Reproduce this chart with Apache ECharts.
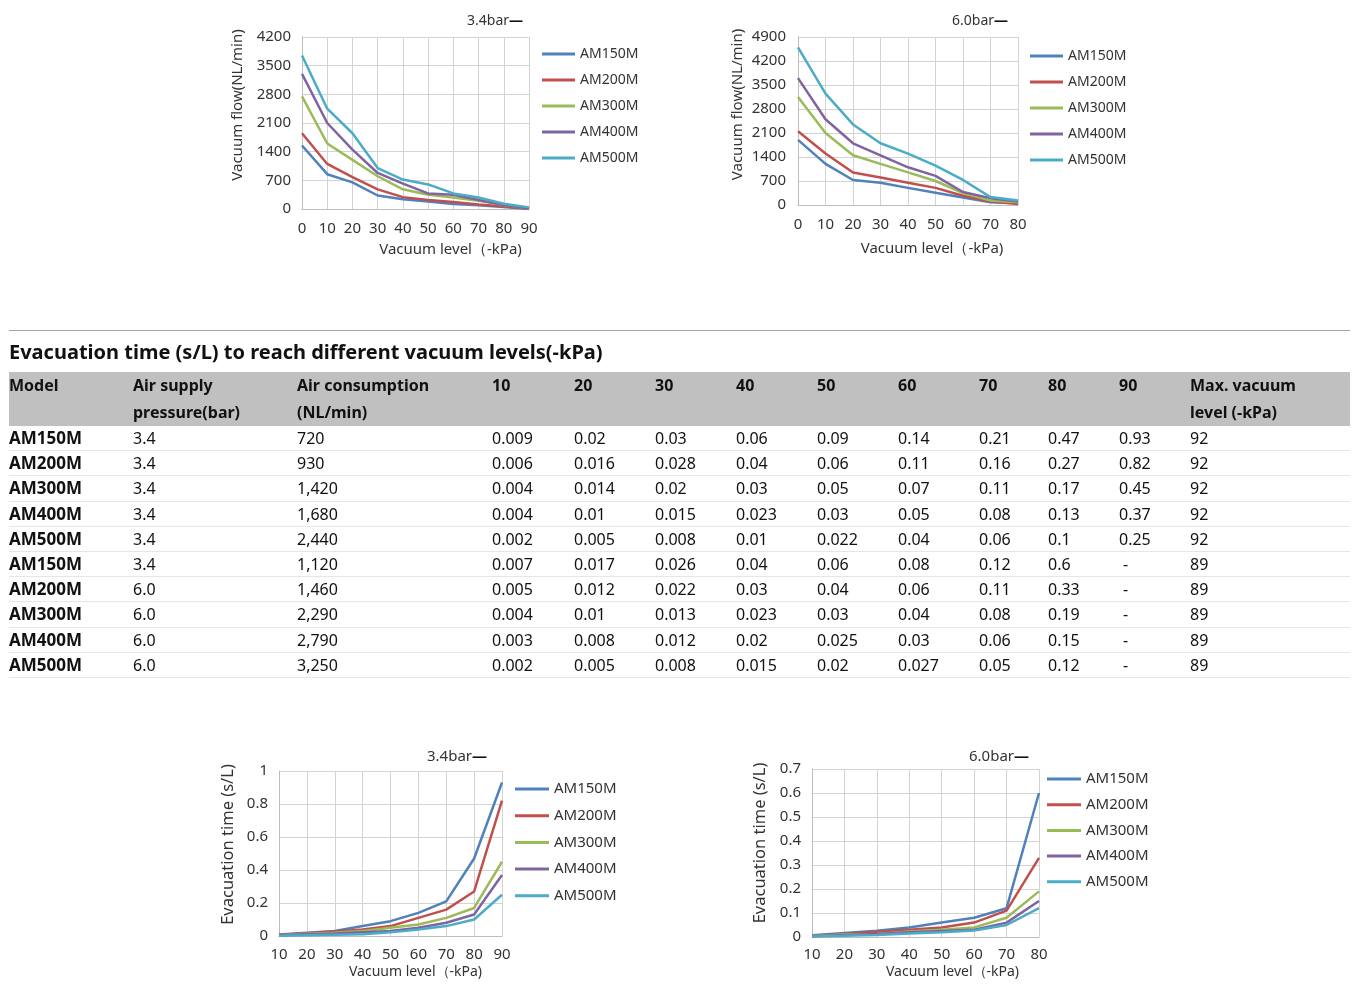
<!DOCTYPE html>
<html>
<head>
<meta charset="utf-8">
<script src="https://cdn.jsdelivr.net/npm/echarts@6/dist/echarts.min.js"></script>
<style>
html,body{margin:0;padding:0;background:#fff;width:1355px;height:988px;overflow:hidden;}
#chart{position:absolute;left:0;top:0;width:1355px;height:988px;z-index:0;}
#sep{position:absolute;left:9px;top:330px;width:1341px;height:1px;background:#a6a6a6;z-index:1;}
#ttl{position:absolute;left:9px;top:340px;line-height:24px;font-family:'Noto Sans',sans-serif;font-weight:bold;font-size:20px;color:#111;z-index:1;white-space:nowrap;}
#tbl{position:absolute;left:9px;top:372px;z-index:1;border-collapse:collapse;table-layout:fixed;font-family:'Noto Sans',sans-serif;color:#111;}
#tbl td{padding:0;text-align:left;white-space:nowrap;}
#tbl thead td{background:#c0c0c0;font-weight:bold;font-size:16px;line-height:27px;vertical-align:top;height:52px;}
#tbl tbody td{font-size:16px;height:24.2px;line-height:22px;vertical-align:middle;border-bottom:1px solid #e6e6e6;}
#tbl tbody td.m{font-weight:bold;font-size:17px;}
</style>
</head>
<body>
<div id="chart"></div>
<div id="sep"></div>
<div id="ttl">Evacuation time (s/L) to reach different vacuum levels(-kPa)</div>
<table id="tbl"></table>
<script>
// ---------- data ----------
const models = ['AM150M', 'AM200M', 'AM300M', 'AM400M', 'AM500M'];

// vacuum flow, 3.4 bar
const flowLevels34 = ['0', '10', '20', '30', '40', '50', '60', '70', '80', '90'];
const flow34_AM150M = [1550, 850, 650, 330, 240, 180, 120, 90, 50, 0];
const flow34_AM200M = [1850, 1100, 780, 480, 290, 220, 170, 110, 60, 10];
const flow34_AM300M = [2750, 1600, 1200, 800, 480, 350, 280, 200, 100, 20];
const flow34_AM400M = [3300, 2100, 1450, 880, 620, 380, 350, 220, 100, 20];
const flow34_AM500M = [3750, 2450, 1850, 1000, 720, 600, 380, 280, 130, 40];

// vacuum flow, 6.0 bar
const flowLevels60 = ['0', '10', '20', '30', '40', '50', '60', '70', '80'];
const flow60_AM150M = [1900, 1200, 730, 650, 500, 360, 220, 80, 60];
const flow60_AM200M = [2150, 1500, 950, 800, 650, 500, 270, 100, 30];
const flow60_AM300M = [3150, 2100, 1450, 1200, 950, 700, 350, 130, 80];
const flow60_AM400M = [3700, 2500, 1800, 1450, 1100, 850, 380, 200, 100];
const flow60_AM500M = [4600, 3250, 2350, 1800, 1500, 1150, 730, 230, 130];

// evacuation time table
const tableModels = ['AM150M', 'AM200M', 'AM300M', 'AM400M', 'AM500M', 'AM150M', 'AM200M', 'AM300M', 'AM400M', 'AM500M'];
const tablePressure = ['3.4', '3.4', '3.4', '3.4', '3.4', '3.4', '6.0', '6.0', '6.0', '6.0'];
const tableConsumption = [720, 930, 1420, 1680, 2440, 1120, 1460, 2290, 2790, 3250];
const tableMaxVacuum = [92, 92, 92, 92, 92, 89, 89, 89, 89, 89];
const evacLevels34 = ['10', '20', '30', '40', '50', '60', '70', '80', '90'];
const evacLevels60 = ['10', '20', '30', '40', '50', '60', '70', '80'];
const evac34_AM150M = [0.009, 0.02, 0.03, 0.06, 0.09, 0.14, 0.21, 0.47, 0.93];
const evac34_AM200M = [0.006, 0.016, 0.028, 0.04, 0.06, 0.11, 0.16, 0.27, 0.82];
const evac34_AM300M = [0.004, 0.014, 0.02, 0.03, 0.05, 0.07, 0.11, 0.17, 0.45];
const evac34_AM400M = [0.004, 0.01, 0.015, 0.023, 0.03, 0.05, 0.08, 0.13, 0.37];
const evac34_AM500M = [0.002, 0.005, 0.008, 0.01, 0.022, 0.04, 0.06, 0.1, 0.25];
const evac60_AM150M = [0.007, 0.017, 0.026, 0.04, 0.06, 0.08, 0.12, 0.6];
const evac60_AM200M = [0.005, 0.012, 0.022, 0.03, 0.04, 0.06, 0.11, 0.33];
const evac60_AM300M = [0.004, 0.01, 0.013, 0.023, 0.03, 0.04, 0.08, 0.19];
const evac60_AM400M = [0.003, 0.008, 0.012, 0.02, 0.025, 0.03, 0.06, 0.15];
const evac60_AM500M = [0.002, 0.005, 0.008, 0.015, 0.02, 0.027, 0.05, 0.12];
const tableHeaderLine1 = ['Model', 'Air supply', 'Air consumption', '10', '20', '30', '40', '50', '60', '70', '80', '90', 'Max. vacuum'];
const tableHeaderLine2 = ['', 'pressure(bar)', '(NL/min)', '', '', '', '', '', '', '', '', '', 'level (-kPa)'];

// ---------- table ----------
const colWidths = [124, 164, 195, 82, 81, 81, 81, 81, 81, 69, 71, 71, 160];
const evacRows = [evac34_AM150M, evac34_AM200M, evac34_AM300M, evac34_AM400M, evac34_AM500M,
                  evac60_AM150M, evac60_AM200M, evac60_AM300M, evac60_AM400M, evac60_AM500M];
(function buildTable() {
  const t = document.getElementById('tbl');
  let html = '<colgroup>' + colWidths.map(w => '<col style="width:' + w + 'px">').join('') + '</colgroup>';
  html += '<thead><tr>' + tableHeaderLine1.map((h, i) => '<td>' + h + (tableHeaderLine2[i] ? '<br>' + tableHeaderLine2[i] : '') + '</td>').join('') + '</tr></thead><tbody>';
  for (let r = 0; r < tableModels.length; r++) {
    const times = [];
    for (let k = 0; k < 9; k++) times.push(evacRows[r][k] === undefined ? '-' : String(evacRows[r][k]));
    html += '<tr><td class="m">' + tableModels[r] + '</td><td>' + tablePressure[r] + '</td><td>' +
      tableConsumption[r].toLocaleString('en-US') + '</td>' +
      times.map(v => '<td' + (v === '-' ? ' style="padding-left:4px"' : '') + '>' + v + '</td>').join('') +
      '<td>' + tableMaxVacuum[r] + '</td></tr>';
  }
  html += '</tbody>';
  t.innerHTML = html;
  t.style.width = colWidths.reduce((a, b) => a + b, 0) + 'px';
})();

// ---------- charts ----------
const colors = ['#4F81BD', '#C0504D', '#9BBB59', '#8064A2', '#4BACC6'];
const FONT = 'Noto Sans';
const TXT = '#333333';

const panels = [
  { grid: { left: 302, top: 37, width: 227, height: 172 }, cats: flowLevels34,
    data: [flow34_AM150M, flow34_AM200M, flow34_AM300M, flow34_AM400M, flow34_AM500M],
    yMax: 4200, yInt: 700, yName: 'Vacuum flow(NL/min)', fs: 14, nfs: 15, xfs: 15,
    yGap: 57, yPad: 36, xGap: 33, xPad: 70, xMargin: 12, yMargin: 11,
    title: '3.4bar', tLeft: 467, tTop: 14,
    legend: { left: 542, top: 46, gap: 10, w: 33 } },
  { grid: { left: 798, top: 37, width: 220, height: 168 }, cats: flowLevels60,
    data: [flow60_AM150M, flow60_AM200M, flow60_AM300M, flow60_AM400M, flow60_AM500M],
    yMax: 4900, yInt: 700, yName: 'Vacuum flow(NL/min)', fs: 14, nfs: 15, xfs: 15,
    yGap: 53, yPad: 33, xGap: 36, xPad: 48, xMargin: 12, yMargin: 12,
    title: '6.0bar', tLeft: 952, tTop: 14,
    legend: { left: 1030, top: 48, gap: 10, w: 33 } },
  { grid: { left: 279, top: 771, width: 223, height: 165 }, cats: evacLevels34,
    data: [evac34_AM150M, evac34_AM200M, evac34_AM300M, evac34_AM400M, evac34_AM500M],
    yMax: 1, yInt: 0.2, yName: 'Evacuation time (s/L)', fs: 15, nfs: 16.5, xfs: 14,
    yGap: 42, yPad: 18, xGap: 29, xPad: 50, xMargin: 11, yMargin: 11,
    title: '3.4bar', tLeft: 427, tTop: 749,
    legend: { left: 515, top: 781, gap: 10.7, w: 34 } },
  { grid: { left: 812, top: 769, width: 227, height: 168 }, cats: evacLevels60,
    data: [evac60_AM150M, evac60_AM200M, evac60_AM300M, evac60_AM400M, evac60_AM500M],
    yMax: 0.7, yInt: 0.1, yName: 'Evacuation time (s/L)', fs: 15, nfs: 16.5, xfs: 14,
    yGap: 43, yPad: 20, xGap: 28, xPad: 54, xMargin: 10, yMargin: 11,
    title: '6.0bar', tLeft: 969, tTop: 749,
    legend: { left: 1047, top: 771, gap: 9.7, w: 34 } }
];

const option = {
  animation: false,
  backgroundColor: 'transparent',
  textStyle: { fontFamily: FONT },
  title: [], legend: [], grid: [], xAxis: [], yAxis: [], series: []
};

panels.forEach((p, i) => {
  option.grid.push(p.grid);
  option.title.push({
    text: p.title + '{d|—}', left: p.tLeft, top: p.tTop, padding: 0,
    textStyle: { fontFamily: FONT, fontSize: p.fs, fontWeight: 'normal', color: TXT,
      rich: { d: { fontFamily: FONT, fontSize: p.fs, fontWeight: 'bold', color: '#111' } } }
  });
  option.legend.push({
    orient: 'vertical', left: p.legend.left, top: p.legend.top, padding: 0,
    itemGap: p.legend.gap, itemWidth: p.legend.w, itemHeight: 3, icon: 'rect',
    selectedMode: false, data: models,
    textStyle: { fontFamily: FONT, fontSize: p.fs, color: TXT, lineHeight: 16 }
  });
  option.xAxis.push({
    type: 'category', gridIndex: i, data: p.cats, boundaryGap: false,
    name: 'Vacuum level（-kPa)', nameLocation: 'middle', nameGap: p.xGap,
    nameTextStyle: { fontFamily: FONT, fontSize: p.xfs, color: TXT, padding: [0, 0, 0, p.xPad] },
    axisLine: { lineStyle: { color: '#bdbdbd', width: 1 } },
    axisTick: { show: false },
    axisLabel: { fontFamily: FONT, fontSize: 15, color: TXT, margin: p.xMargin, interval: 0 },
    splitLine: { show: true, lineStyle: { color: '#d3d3d3', width: 1 } }
  });
  option.yAxis.push({
    type: 'value', gridIndex: i, min: 0, max: p.yMax, interval: p.yInt,
    name: p.yName, nameLocation: 'middle', nameGap: p.yGap, nameRotate: 90,
    nameTextStyle: { fontFamily: FONT, fontSize: p.nfs, color: TXT, padding: [0, 0, 0, p.yPad] },
    axisLine: { show: true, lineStyle: { color: '#bdbdbd', width: 1 } },
    axisTick: { show: false },
    axisLabel: { fontFamily: FONT, fontSize: 15, color: TXT, margin: p.yMargin,
      formatter: v => String(Math.round(v * 1000) / 1000) },
    splitLine: { show: true, lineStyle: { color: '#d3d3d3', width: 1 } }
  });
  p.data.forEach((d, k) => {
    option.series.push({
      type: 'line', name: models[k], xAxisIndex: i, yAxisIndex: i, data: d,
      showSymbol: false, symbol: 'none', smooth: false,
      lineStyle: { color: colors[k], width: 2.5 }, itemStyle: { color: colors[k] },
      z: 2 + k
    });
  });
});

const chart = echarts.init(document.getElementById('chart'), null, { renderer: 'canvas' });
chart.setOption(option);
</script>
</body>
</html>
